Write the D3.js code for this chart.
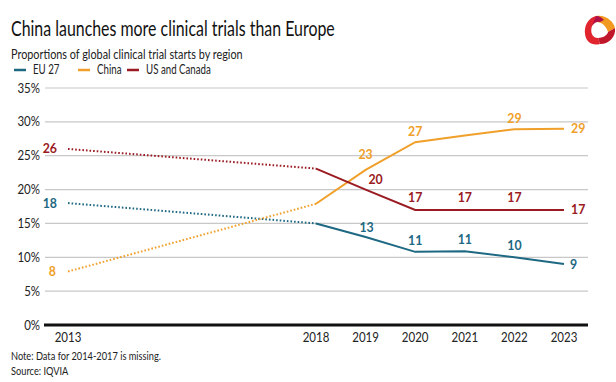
<!DOCTYPE html>
<html><head><meta charset="utf-8">
<script src="https://cdn.jsdelivr.net/npm/d3@7"></script>
<style>body{margin:0;background:#fff}svg{display:block}text{font-family:Lato,"Open Sans",sans-serif}</style>
</head><body><svg id="c" width="616" height="382"></svg>
<script>
const years = [2013, 2018, 2019, 2020, 2021, 2022, 2023];
const eu27 = [18, 15, 13, 10.8, 10.9, 10, 9];
const china = [7.9, 17.9, 22.9, 27, 28, 28.9, 29];
const usCanada = [26, 23.1, 20, 17, 17, 17, 17];
const euLabels = ["18", "", "13", "11", "11", "10", "9"];
const chinaLabels = ["8", "", "23", "27", "", "29", "29"];
const usLabels = ["26", "", "20", "17", "17", "17", "17"];
const yTicks = [0, 5, 10, 15, 20, 25, 30, 35];
const seriesNames = ["EU 27", "China", "US and Canada"];
const colors = ["#1d6882", "#f0a02a", "#9a1b22"];

const svg = d3.select("#c");
const x = d3.scaleLinear().domain([2013, 2023]).range([68, 564]);
const y = d3.scaleLinear().domain([0, 35]).range([325, 88]);

let K = 1;
function txt(px, py, s, size, opts = {}) {
  const anchor = opts.anchor || "start";
  const g = svg.append("g").attr("transform", `translate(${px},${py}) scale(${opts.k || K},1)`);
  return g.append("text").attr("x", 0).attr("y", 0).attr("text-anchor", anchor)
    .attr("font-size", size).attr("font-weight", opts.bold ? "bold" : "normal")
    .attr("fill", opts.fill || "#222").text(s);
}

const t = txt(11, 36, "China launches more clinical trials than Europe", 21, { fill: "#111", k: 1 });
K = 324 / t.node().getComputedTextLength();
t.node().parentNode.setAttribute("transform", `translate(11,36) scale(${K},1)`);

txt(11, 59, "Proportions of global clinical trial starts by region", 14.3);

const legX = [14, 78, 127];
seriesNames.forEach((n, i) => {
  svg.append("line").attr("x1", legX[i]).attr("x2", legX[i] + 12).attr("y1", 70).attr("y2", 70)
    .attr("stroke", colors[i]).attr("stroke-width", 2.5);
  txt(legX[i] + 19, 74, n, 12.8);
});

const logo = svg.append("g").attr("transform", "translate(598,30)");
logo.append("path").attr("d", "M-2,-14 C8,-16 16,-8 17,-2 L10,2 C8,-4 4,-8 -2,-8 Z").attr("fill", "#f29a1f");
logo.append("path").attr("d", "M-2,-14 C-10,-12 -14,-4 -13,4 C-12,12 -6,16 2,14 L0,8 C-6,8 -8,2 -6,-4 C-4,-8 0,-9 2,-8 Z").attr("fill", "#e0252f");
logo.append("path").attr("d", "M17,-2 C18,6 12,14 2,14 L0,8 C6,8 10,4 10,2 Z").attr("fill", "#c0182a");
logo.append("path").attr("d", "M-2,-14 C2,-14 4,-12 6,-10 L2,-8 C0,-9 -4,-8 -6,-4 Z").attr("fill", "#b01048");

yTicks.forEach(v => {
  if (v > 0) svg.append("line").attr("x1", 45).attr("x2", 588).attr("y1", y(v)).attr("y2", y(v))
    .attr("stroke", "#c8c8c8").attr("stroke-width", 1.2);
  txt(40, y(v) + 4.5, v + "%", 12.5, { anchor: "end", k: 0.92 });
});
svg.append("line").attr("x1", 44).attr("x2", 588).attr("y1", y(0)).attr("y2", y(0))
  .attr("stroke", "#111").attr("stroke-width", 3);

years.forEach(yr => txt(x(yr), 342, String(yr), 12.5, { anchor: "middle", k: 0.92 }));

const data = [eu27, china, usCanada];
const labels = [euLabels, chinaLabels, usLabels];
const line = d3.line().x(d => x(d[0])).y(d => y(d[1]));
data.forEach((vals, i) => {
  const pts = years.map((yr, j) => [yr, vals[j]]);
  svg.append("path").attr("d", line(pts.slice(0, 2))).attr("fill", "none")
    .attr("stroke", colors[i]).attr("stroke-width", 2).attr("stroke-dasharray", "1.6,2");
  svg.append("path").attr("d", line(pts.slice(1))).attr("fill", "none")
    .attr("stroke", colors[i]).attr("stroke-width", 2);
});

const offsets = [
  [[-11, 4.5, "end"], null, [1, -4.5, "middle"], [0, -6.5, "middle"], [0, -7.5, "middle"], [0, -7.5, "middle"], [6, 4.5, "start"]],
  [[-12, 4.5, "end"], null, [0, -10.5, "middle"], [0, -6.5, "middle"], null, [0, -6.5, "middle"], [7, 4.5, "start"]],
  [[-11, 4.5, "end"], null, [10, -5.5, "middle"], [0, -7.5, "middle"], [0, -7.5, "middle"], [0, -7.5, "middle"], [7, 4.5, "start"]]
];
data.forEach((vals, i) => {
  years.forEach((yr, j) => {
    const o = offsets[i][j];
    if (!o || !labels[i][j]) return;
    txt(x(yr) + o[0], y(vals[j]) + o[1], labels[i][j], 13, { anchor: o[2], bold: true, fill: colors[i], k: 0.95 });
  });
});

txt(11, 360, "Note: Data for 2014-2017 is missing.", 12.2);
txt(11, 375, "Source: IQVIA", 12.2);
</script></body></html>
